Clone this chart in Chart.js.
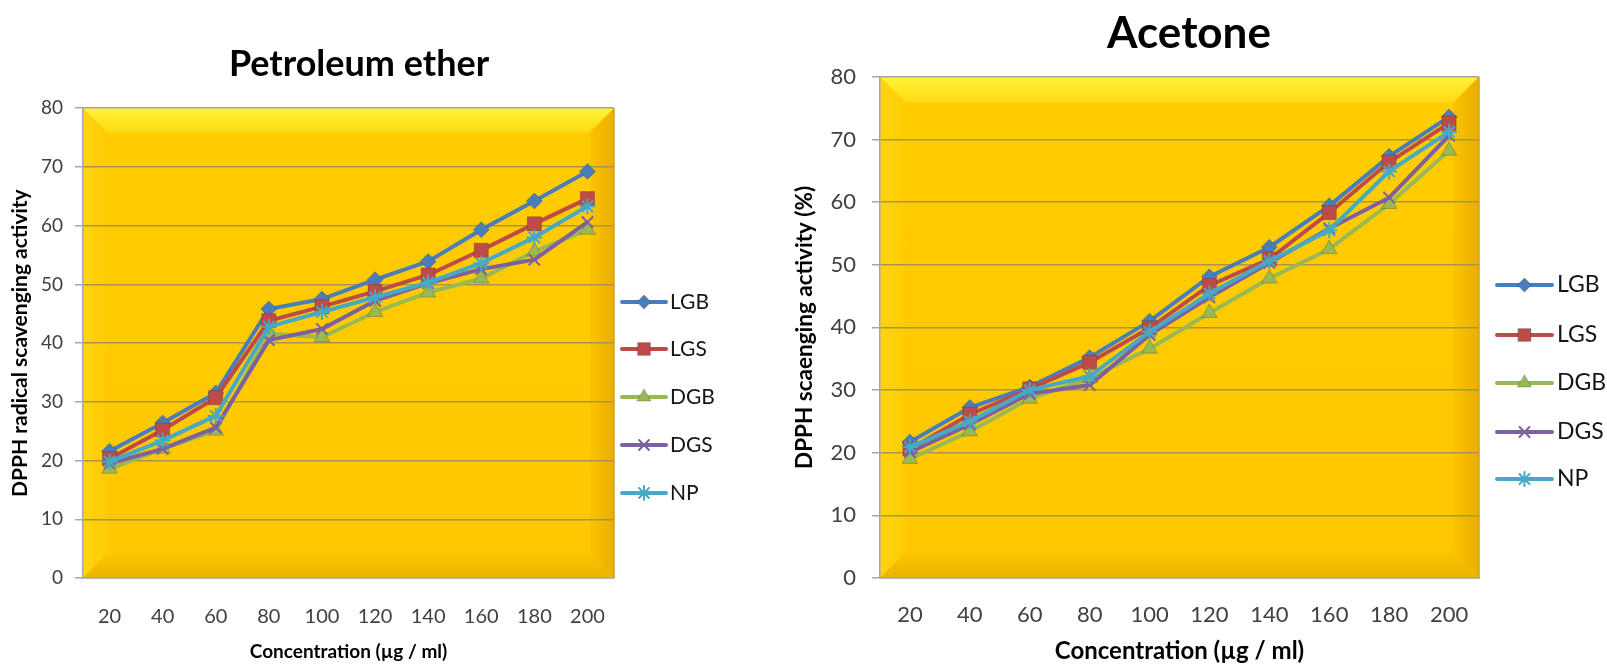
<!DOCTYPE html>
<html>
<head>
<meta charset="utf-8">
<script src="https://cdn.jsdelivr.net/npm/chart.js@4.4.1/dist/chart.umd.min.js"></script>
<style>
  body { margin: 0; background: #fff; }
  canvas { position: absolute; top: 0; }
</style>
</head>
<body>
<canvas id="petrol" width="718" height="670" style="left:0px"></canvas>
<canvas id="acetone" width="836" height="670" style="left:771px"></canvas>
<script>
// concentrations (µg/ml) on the x axis
const concentrations = ["20", "40", "60", "80", "100", "120", "140", "160", "180", "200"];
const seriesNames = ["LGB", "LGS", "DGB", "DGS", "NP"];

// Petroleum ether extract
const petrolLGB = [21.6, 26.4, 31.5, 45.8, 47.5, 50.8, 53.9, 59.3, 64.2, 69.2];
const petrolLGS = [20.3, 25.2, 30.7, 43.8, 46.2, 48.8, 51.6, 55.8, 60.3, 64.6];
const petrolDGB = [18.6, 22.0, 25.1, 41.6, 41.0, 45.3, 48.6, 51.0, 55.6, 59.3];
const petrolDGS = [19.5, 22.0, 25.6, 40.5, 42.4, 47.2, 50.2, 52.6, 54.2, 60.6];
const petrolNP  = [19.8, 23.4, 27.6, 42.8, 45.3, 47.8, 50.3, 53.6, 58.0, 63.3];

// Acetone extract
const acetoneLGB = [21.7, 27.2, 30.5, 35.2, 41.0, 48.1, 52.8, 59.4, 67.3, 73.6];
const acetoneLGS = [20.6, 26.1, 30.2, 34.4, 39.9, 46.7, 50.9, 58.3, 66.4, 72.6];
const acetoneDGB = [19.0, 23.4, 28.6, 31.9, 36.6, 42.3, 47.8, 52.5, 59.7, 68.2];
const acetoneDGS = [20.1, 24.5, 29.4, 30.8, 38.8, 44.8, 50.3, 55.8, 60.7, 70.6];
const acetoneNP  = [20.9, 25.0, 30.0, 32.2, 39.3, 45.4, 50.6, 55.5, 64.9, 71.2];

const yMin = 0, yMax = 80, yStep = 10;

const seriesColors  = ["#4A7EBB", "#BE4B48", "#98B954", "#7D60A0", "#46AAC5"];
const seriesMarkers = ["rectRot", "rect", "triangle", "crossRot", "star"];
const markerSizes   = [8, 10, 9, 8, 8];

// gold bevelled plot area, like the old Excel 3D look
const goldPlot = {
    id: "goldPlot",
    beforeDraw(chart, args, opts) {
        const ctx = chart.ctx;
        const a = chart.chartArea;
        const b = opts.bevel;
        const L = a.left, T = a.top, R = a.right, B = a.bottom;
        ctx.save();
        let g = ctx.createLinearGradient(0, T, 0, B);
        g.addColorStop(0, "#FFCD00");
        g.addColorStop(1, "#FFC700");
        ctx.fillStyle = g;
        ctx.fillRect(L, T, R - L, B - T);
        const face = (pts, x0, y0, x1, y1, c0, c1) => {
            const gr = ctx.createLinearGradient(x0, y0, x1, y1);
            gr.addColorStop(0, c0);
            gr.addColorStop(1, c1);
            ctx.fillStyle = gr;
            ctx.beginPath();
            ctx.moveTo(pts[0][0], pts[0][1]);
            for (let i = 1; i < pts.length; i++) ctx.lineTo(pts[i][0], pts[i][1]);
            ctx.closePath();
            ctx.fill();
        };
        face([[L, T], [R, T], [R - b, T + b], [L + b, T + b]], 0, T, 0, T + b, "#FFF437", "#FFDA14");
        face([[L, T], [L + b, T + b], [L + b, B - b], [L, B]], L, 0, L + b, 0, "#FFD414", "#FFCC00");
        face([[R, T], [R, B], [R - b, B - b], [R - b, T + b]], R, 0, R - b, 0, "#EBAF00", "#FAC300");
        face([[L, B], [L + b, B - b], [R - b, B - b], [R, B]], 0, B, 0, B - b, "#EEB400", "#FBC500");
        ctx.strokeStyle = "#CFA224";
        ctx.lineWidth = 1.5;
        ctx.beginPath();
        ctx.moveTo(R, T);
        ctx.lineTo(R, B);
        ctx.stroke();
        ctx.restore();
    }
};

// legend on the right: short line with the marker in its middle
const sideLegend = {
    id: "sideLegend",
    afterDraw(chart, args, o) {
        const ctx = chart.ctx;
        ctx.save();
        chart.data.datasets.forEach((ds, i) => {
            const y = o.rows[i];
            ctx.strokeStyle = ds.borderColor;
            ctx.lineWidth = 4;
            ctx.lineCap = "round";
            ctx.beginPath();
            ctx.moveTo(o.x0, y);
            ctx.lineTo(o.x1, y);
            ctx.stroke();
            ctx.fillStyle = ds.pointBackgroundColor;
            ctx.strokeStyle = ds.pointBorderColor;
            ctx.lineWidth = ds.pointBorderWidth;
            if (Chart.helpers && Chart.helpers.drawPoint) {
                Chart.helpers.drawPoint(ctx, {
                    pointStyle: ds.pointStyle,
                    radius: ds.pointRadius - 1,
                    rotation: 0,
                    borderWidth: ds.pointBorderWidth
                }, (o.x0 + o.x1) / 2, y);
            }
            ctx.fillStyle = "#151515";
            ctx.font = o.font;
            ctx.textBaseline = "middle";
            ctx.textAlign = "left";
            ctx.fillText(ds.label, o.textX, y);
        });
        ctx.restore();
    }
};

function buildDatasets(values) {
    return values.map((vals, i) => ({
        label: seriesNames[i],
        data: vals,
        borderColor: seriesColors[i],
        borderWidth: 4,
        tension: 0,
        pointStyle: seriesMarkers[i],
        pointRadius: markerSizes[i],
        pointBackgroundColor: seriesColors[i],
        pointBorderColor: i >= 3 ? seriesColors[i] : "rgba(40,40,40,0.25)",
        pointBorderWidth: i >= 3 ? 2 : 1,
        order: 5 - i
    }));
}

function makeChart(id, title, yTitle, values, L) {
    const ctx = document.getElementById(id).getContext("2d");
    return new Chart(ctx, {
        type: "line",
        data: { labels: concentrations, datasets: buildDatasets(values) },
        options: {
            responsive: false,
            animation: false,
            events: [],
            layout: { padding: 0 },
            plugins: {
                legend: { display: false },
                tooltip: { enabled: false },
                title: {
                    display: true,
                    text: title,
                    color: "#000",
                    font: { family: "Lato", weight: "bold", size: L.titleSize },
                    padding: { top: L.titleTop, bottom: L.titleBottom }
                },
                goldPlot: { bevel: L.bevel },
                sideLegend: L.legend
            },
            scales: {
                x: {
                    offset: true,
                    grid: { display: false, drawTicks: false },
                    border: { display: true, color: "#A6A6A6", width: 1.5 },
                    ticks: {
                        color: "#404040",
                        font: { family: "Lato", size: L.xTickSize },
                        padding: L.xTickPad,
                        maxRotation: 0,
                        autoSkip: false
                    },
                    title: {
                        display: true,
                        text: "Concentration (µg / ml)",
                        color: "#000",
                        font: { family: "Lato", weight: "bold", size: L.xTitleSize },
                        padding: { top: 0, bottom: L.xTitlePad }
                    },
                    afterFit(s) { s.height = L.xHeight; }
                },
                y: {
                    min: yMin,
                    max: yMax,
                    ticks: {
                        stepSize: yStep,
                        color: "#404040",
                        font: { family: "Lato", size: L.yTickSize },
                        padding: L.yTickPad
                    },
                    grid: {
                        color: (c) => (c.tick && (c.tick.value === yMin || c.tick.value === yMax)) ? "#A6A6A6" : "#A89350",
                        lineWidth: 1.5,
                        tickLength: 8,
                        tickColor: "#A6A6A6"
                    },
                    border: { color: "#A6A6A6", width: 1.5 },
                    title: {
                        display: true,
                        text: yTitle,
                        color: "#000",
                        font: { family: "Lato", weight: "bold", size: L.yTitleSize },
                        padding: { top: L.yTitlePad, bottom: 0 }
                    },
                    afterFit(s) { s.width = L.yWidth; }
                },
                // empty right-hand box that keeps room for the legend
                legendRoom: {
                    type: "linear",
                    position: "right",
                    display: true,
                    grid: { display: false, drawTicks: false },
                    border: { display: false },
                    ticks: { display: false },
                    afterFit(s) { s.width = L.legendRoom; }
                }
            }
        },
        plugins: [goldPlot, sideLegend]
    });
}

makeChart("petrol", "Petroleum ether", "DPPH radical scavenging activity",
    [petrolLGB, petrolLGS, petrolDGB, petrolDGS, petrolNP], {
        legendRoom: 104, titleSize: 36, titleTop: 43, titleBottom: 22, bevel: 24,
        xTickSize: 20, xTickPad: 27, xTitleSize: 19, xTitlePad: 7, xHeight: 92,
        yTickSize: 19, yTickPad: 12, yTitleSize: 21, yTitlePad: 8, yWidth: 83,
        legend: { x0: 622, x1: 666, textX: 670, rows: [302, 349, 397, 445, 493], font: "21px Lato" }
    });

makeChart("acetone", "Acetone", "DPPH scaenging activity (%)",
    [acetoneLGB, acetoneLGS, acetoneDGB, acetoneDGS, acetoneNP], {
        legendRoom: 128, titleSize: 44, titleTop: 7, titleBottom: 17, bevel: 26,
        xTickSize: 22, xTickPad: 24, xTitleSize: 24, xTitlePad: 4, xHeight: 92,
        yTickSize: 22, yTickPad: 16, yTitleSize: 22.5, yTitlePad: 20, yWidth: 109,
        legend: { x0: 726, x1: 781, textX: 786, rows: [285, 335, 383, 432, 479], font: "23px Lato" }
    });
</script>
</body>
</html>
